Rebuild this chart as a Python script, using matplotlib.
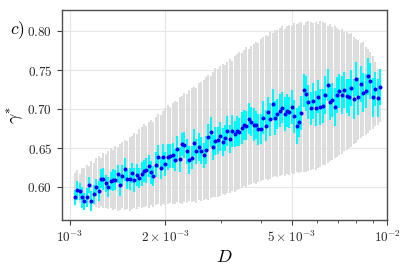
import numpy as np
import matplotlib
matplotlib.use("Agg")
import matplotlib.pyplot as plt
from matplotlib.ticker import FixedLocator, NullFormatter

plt.rcParams['mathtext.fontset'] = 'cm'
plt.rcParams['font.family'] = ['DejaVu Serif']

# ---- data ----
D_min, D_max, n_pts = 1.035e-3, 9.50e-3, 129

gamma = [0.587, 0.596, 0.595, 0.587, 0.582, 0.587, 0.603, 0.582, 0.591, 0.600,
         0.595, 0.611, 0.610, 0.605, 0.600, 0.608, 0.609, 0.609, 0.617, 0.603,
         0.615, 0.623, 0.610, 0.611, 0.618, 0.609, 0.616, 0.612, 0.617, 0.621,
         0.622, 0.627, 0.619, 0.614, 0.629, 0.639, 0.625, 0.639, 0.630, 0.639,
         0.640, 0.641, 0.635, 0.649, 0.636, 0.655, 0.654, 0.646, 0.635, 0.638,
         0.657, 0.646, 0.652, 0.647, 0.641, 0.648, 0.664, 0.671, 0.651, 0.659,
         0.660, 0.665, 0.658, 0.663, 0.672, 0.662, 0.672, 0.668, 0.672, 0.671,
         0.676, 0.680, 0.679, 0.688, 0.684, 0.680, 0.680, 0.674, 0.675, 0.689,
         0.679, 0.696, 0.687, 0.706, 0.689, 0.694, 0.698, 0.702, 0.694, 0.698,
         0.696, 0.703, 0.691, 0.679, 0.684, 0.695, 0.724, 0.720, 0.709, 0.701,
         0.710, 0.701, 0.716, 0.703, 0.704, 0.718, 0.731, 0.709, 0.712, 0.703,
         0.718, 0.723, 0.718, 0.725, 0.717, 0.715, 0.727, 0.713, 0.739, 0.716,
         0.732, 0.721, 0.723, 0.742, 0.736, 0.715, 0.726, 0.714, 0.728]

cyan_half = [0.010, 0.012, 0.011, 0.013, 0.011, 0.012, 0.010, 0.013, 0.012, 0.011,
             0.013, 0.012, 0.014, 0.011, 0.013, 0.012, 0.014, 0.013, 0.012, 0.014,
             0.013, 0.015, 0.012, 0.014, 0.013, 0.015, 0.014, 0.013, 0.015, 0.014,
             0.016, 0.014, 0.015, 0.013, 0.016, 0.015, 0.014, 0.016, 0.015, 0.017,
             0.015, 0.016, 0.014, 0.017, 0.016, 0.015, 0.017, 0.016, 0.018, 0.015,
             0.017, 0.016, 0.018, 0.017, 0.016, 0.018, 0.017, 0.019, 0.016, 0.018,
             0.017, 0.019, 0.018, 0.017, 0.019, 0.018, 0.020, 0.017, 0.019, 0.018,
             0.020, 0.019, 0.018, 0.020, 0.019, 0.021, 0.018, 0.020, 0.019, 0.021,
             0.020, 0.019, 0.021, 0.020, 0.022, 0.019, 0.021, 0.020, 0.022, 0.021,
             0.020, 0.022, 0.021, 0.023, 0.020, 0.022, 0.021, 0.023, 0.022, 0.021,
             0.023, 0.022, 0.021, 0.023, 0.022, 0.024, 0.021, 0.023, 0.022, 0.024,
             0.023, 0.022, 0.024, 0.023, 0.022, 0.024, 0.023, 0.025, 0.022, 0.024,
             0.023, 0.025, 0.022, 0.024, 0.023, 0.025, 0.022, 0.024, 0.023]

gray_upper = [0.618, 0.622, 0.617, 0.625, 0.624, 0.629, 0.627, 0.633, 0.631, 0.637,
              0.640, 0.638, 0.644, 0.642, 0.647, 0.650, 0.648, 0.653, 0.651, 0.655,
              0.658, 0.661, 0.659, 0.664, 0.666, 0.670, 0.668, 0.674, 0.677, 0.681,
              0.679, 0.684, 0.686, 0.683, 0.690, 0.694, 0.692, 0.698, 0.701, 0.705,
              0.703, 0.708, 0.711, 0.709, 0.715, 0.717, 0.721, 0.719, 0.724, 0.727,
              0.729, 0.727, 0.733, 0.735, 0.737, 0.741, 0.744, 0.742, 0.748, 0.753,
              0.751, 0.755, 0.758, 0.756, 0.761, 0.764, 0.762, 0.768, 0.771, 0.773,
              0.772, 0.776, 0.779, 0.777, 0.781, 0.784, 0.786, 0.785, 0.790, 0.793,
              0.795, 0.794, 0.799, 0.798, 0.802, 0.801, 0.804, 0.806, 0.803, 0.807,
              0.808, 0.806, 0.810, 0.809, 0.810, 0.812, 0.808, 0.811, 0.813, 0.811,
              0.810, 0.812, 0.809, 0.813, 0.811, 0.810, 0.807, 0.809, 0.805, 0.807,
              0.804, 0.802, 0.803, 0.799, 0.799, 0.796, 0.797, 0.792, 0.790, 0.788,
              0.785, 0.786, 0.780, 0.777, 0.773, 0.768, 0.760, 0.752, 0.745]

gray_lower = [0.581, 0.583, 0.580, 0.582, 0.580, 0.578, 0.579, 0.576, 0.577, 0.575,
              0.574, 0.576, 0.573, 0.574, 0.572, 0.573, 0.571, 0.572, 0.570, 0.571,
              0.573, 0.571, 0.572, 0.570, 0.572, 0.574, 0.572, 0.575, 0.573, 0.575,
              0.576, 0.574, 0.577, 0.575, 0.577, 0.578, 0.576, 0.578, 0.577, 0.579,
              0.580, 0.578, 0.579, 0.581, 0.580, 0.579, 0.581, 0.580, 0.582, 0.581,
              0.582, 0.580, 0.583, 0.582, 0.583, 0.585, 0.584, 0.586, 0.587, 0.588,
              0.587, 0.589, 0.591, 0.590, 0.592, 0.593, 0.595, 0.594, 0.596, 0.598,
              0.599, 0.601, 0.600, 0.603, 0.604, 0.605, 0.604, 0.607, 0.608, 0.609,
              0.610, 0.609, 0.611, 0.613, 0.614, 0.613, 0.615, 0.616, 0.615, 0.617,
              0.616, 0.618, 0.617, 0.619, 0.618, 0.619, 0.620, 0.619, 0.621, 0.622,
              0.623, 0.622, 0.625, 0.626, 0.628, 0.629, 0.631, 0.633, 0.635, 0.638,
              0.639, 0.641, 0.643, 0.646, 0.648, 0.650, 0.652, 0.655, 0.657, 0.660,
              0.663, 0.665, 0.667, 0.670, 0.673, 0.675, 0.678, 0.680, 0.683]

y_ticks = [0.60, 0.65, 0.70, 0.75, 0.80]
x_major = [1e-3, 2e-3, 5e-3, 1e-2]
x_major_labels = [r'$10^{-3}$', r'$2\times10^{-3}$', r'$5\times10^{-3}$', r'$10^{-2}$']
x_minor = [3e-3, 4e-3, 6e-3, 7e-3, 8e-3, 9e-3]

D = np.geomspace(D_min, D_max, n_pts)
gamma = np.array(gamma)
cyan_half = np.array(cyan_half)

fig = plt.figure(figsize=(4.07, 2.66), dpi=100)
ax = fig.add_axes([0.1523, 0.1729, 0.7986, 0.7895])

ax.vlines(D, gray_lower, gray_upper, color='#dadada', linewidth=1.3, zorder=2)
ax.vlines(D, gamma - cyan_half, gamma + cyan_half, color='#00f8ff', linewidth=1.5, zorder=3)
ax.plot(D, gamma, 'o', color='#0000ff', markersize=2.9, markeredgewidth=0, zorder=4)

ax.set_xscale('log')
ax.set_xlim(9.43e-4, 1e-2)
ax.set_ylim(0.558, 0.827)

ax.set_xticks(x_major)
ax.set_xticklabels(x_major_labels)
ax.xaxis.set_minor_locator(FixedLocator(x_minor))
ax.xaxis.set_minor_formatter(NullFormatter())

ax.set_yticks(y_ticks)
ax.set_yticklabels([r'$%.2f$' % v for v in y_ticks])

ax.grid(True, which='major', color='#e6e6e6', linewidth=0.8)
ax.set_axisbelow(True)

ax.tick_params(which='major', direction='out', length=3.5, width=0.8, labelsize=9.5, colors='0.25', labelcolor='0.15')
ax.tick_params(which='minor', direction='out', length=2, width=0.6, colors='0.25')
for s in ax.spines.values():
    s.set_color('0.3')
    s.set_linewidth(1.0)

ax.set_xlabel(r'$D$', fontsize=13, labelpad=2)
ax.set_ylabel(r'$\gamma^{*}$', fontsize=13)
ax.yaxis.set_label_coords(-0.112, 0.5)
fig.text(0.025, 0.87, r'$c)$', fontsize=12.5)

fig.savefig('out.png', dpi=100)
